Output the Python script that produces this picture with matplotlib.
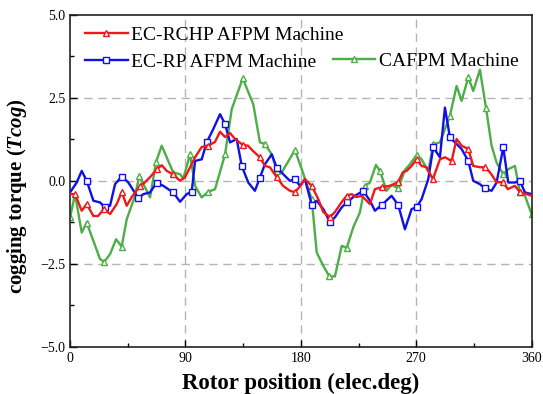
import numpy as np
import matplotlib
matplotlib.use("Agg")
import matplotlib.pyplot as plt
from matplotlib.ticker import MultipleLocator

plt.rcParams['font.family'] = ['Liberation Serif', 'DejaVu Serif']
plt.rcParams['mathtext.fontset'] = 'custom'
plt.rcParams['mathtext.it'] = 'Liberation Serif:italic:bold'
plt.rcParams['mathtext.rm'] = 'Liberation Serif:bold'

# EC-RCHP AFPM machine
rchp_pos = [0, 3.9, 9.1, 13.0, 18.2, 21.8, 26.5, 31.2, 36.4, 40.3, 44.2, 48.1,
            54.6, 58.5, 62.4, 67.6, 71.5, 75.4, 80.3, 85.8, 89.7, 93.6, 97.5,
            102.7, 107.6, 113.0, 117.0, 120.9, 124.8, 128.7, 134.9, 138.8,
            142.7, 148.1, 152.0, 155.9, 161.2, 166.1, 171.5, 175.4, 179.3,
            183.2, 188.5, 193.6, 197.5, 202.7, 206.6, 211.9, 215.8, 219.7,
            223.5, 227.4, 233.9, 237.8, 243.0, 249.5, 255.8, 259.6, 262.5,
            266.4, 270.3, 274.2, 278.1, 283.0, 288.5, 292.4, 297.6, 301.5,
            305.4, 310.6, 314.5, 319.7, 323.6, 327.5, 332.7, 337.6, 341.5,
            347.0, 350.9, 356.1, 360]
rchp_tq = [-0.40, -0.40, -0.90, -0.70, -1.06, -1.06, -0.85, -1.00, -0.70, -0.34,
           -0.75, -0.49, -0.15, -0.04, 0.11, 0.35, 0.47, 0.30, 0.20, 0.00, 0.11,
           0.41, 0.71, 1.02, 1.06, 1.17, 1.48, 1.32, 1.44, 1.26, 1.08, 1.06,
           0.90, 0.71, 0.45, 0.41, 0.11, -0.15, -0.30, -0.34, -0.17, 0.05,
           -0.15, -0.55, -0.94, -1.09, -0.94, -0.64, -0.45, -0.40, -0.49,
           -0.45, -0.70, -0.25, -0.19, -0.15, -0.04, 0.26, 0.30, 0.45, 0.65,
           0.45, 0.41, 0.05, 0.65, 0.71, 0.60, 1.26, 1.06, 0.96, 0.45, 0.41,
           0.41, 0.26, -0.04, -0.04, -0.25, -0.15, -0.34, -0.40, -0.45]
rchp_marks = [1, 3, 6, 9, 12, 15, 18, 24, 30, 33, 36, 39, 42, 45, 48, 54, 56,
              60, 63, 66, 69, 72, 75, 78]

# EC-RP AFPM machine
rp_pos = [0, 5.2, 9.1, 13.0, 18.2, 23.4, 27.3, 31.2, 35.1, 40.3, 45.5, 53.3,
          57.2, 62.4, 67.6, 72.7, 80.5, 85.8, 91.0, 94.9, 97.5, 102.7, 106.6,
          111.7, 117.0, 120.9, 124.8, 130.0, 133.9, 139.0, 144.2, 148.1, 152.0,
          157.3, 161.2, 166.3, 171.5, 175.4, 179.3, 183.2, 188.5, 192.4, 197.5,
          202.7, 206.6, 211.9, 215.8, 222.2, 228.7, 233.9, 237.8, 243.0, 250.8,
          256.0, 261.2, 266.4, 270.3, 274.2, 279.4, 283.3, 288.5, 292.4, 296.3,
          300.2, 305.4, 310.6, 314.5, 319.7, 323.6, 328.8, 332.7, 337.9, 341.8,
          347.0, 350.9, 354.8, 360]
rp_tq = [-0.35, -0.05, 0.30, 0.00, -0.60, -0.65, -0.80, -0.75, -0.10, 0.13,
         -0.05, -0.53, -0.40, -0.35, -0.05, -0.15, -0.35, -0.63, -0.40, -0.33,
         0.60, 0.65, 1.16, 1.56, 2.01, 1.71, 1.16, 1.26, 0.45, -0.05, -0.30,
         0.10, 0.50, 0.80, 0.40, 0.20, 0.00, 0.05, -0.15, 0.05, -0.72, -0.60,
         -0.85, -1.24, -1.10, -0.80, -0.65, -0.45, -0.30, -0.60, -0.90, -0.73,
         -0.45, -0.73, -1.46, -0.85, -0.80, -0.55, 0.05, 1.01, 0.71, 2.21,
         1.31, 1.16, 0.96, 0.60, 0.00, -0.10, -0.23, -0.30, -0.05, 1.01,
         -0.05, -0.05, 0.00, -0.35, -0.40]
rp_marks = [3, 6, 9, 11, 14, 16, 19, 22, 25, 28, 31, 34, 37, 40, 43, 46, 48,
            51, 53, 56, 59, 62, 65, 68, 71, 74]

# CAFPM machine
ca_pos = [0, 3.9, 9.1, 13.0, 18.2, 23.4, 26.7, 31.2, 35.9, 40.3, 44.2, 50.7,
          54.0, 58.5, 62.4, 67.1, 71.5, 76.6, 80.5, 85.8, 88.3, 93.6, 97.5,
          102.7, 107.8, 113.1, 120.9, 126.1, 134.7, 142.9, 148.1, 152.0, 157.3,
          161.2, 165.1, 175.4, 181.9, 188.5, 192.4, 197.5, 202.2, 206.6, 211.9,
          215.8, 220.9, 226.1, 230.0, 233.9, 238.6, 241.7, 246.9, 250.8, 256.0,
          261.2, 265.1, 270.3, 274.2, 279.4, 283.3, 288.5, 296.3, 301.5, 305.4,
          310.6, 314.5, 319.7, 324.4, 328.8, 332.7, 337.9, 341.8, 347.0, 350.9,
          354.8, 360]
ca_tq = [-1.10, -0.40, -1.56, -1.26, -1.81, -2.36, -2.44, -2.21, -1.76, -1.98,
         -1.16, -0.45, 0.15, -0.20, -0.50, 0.57, 1.06, 0.60, 0.25, 0.20, 0.07,
         0.80, -0.15, -0.50, -0.33, -0.25, 0.80, 2.16, 3.09, 2.31, 1.16, 1.11,
         0.80, 0.30, 0.25, 0.93, 0.22, -0.55, -2.16, -2.56, -2.88, -2.88,
         -1.96, -2.02, -1.40, -0.95, -0.15, -0.05, 0.48, 0.30, -0.30, -0.12,
         -0.23, 0.33, 0.50, 0.78, 0.65, 0.28, 1.10, 1.16, 1.96, 2.86, 2.41,
         3.12, 2.71, 3.35, 2.21, 1.06, 0.55, 0.20, 0.35, 0.45, -0.35, -0.45,
         -1.00]
ca_marks = [0, 3, 6, 9, 12, 15, 18, 21, 24, 26, 28, 31, 33, 35, 37, 40, 43, 46,
            49, 52, 55, 58, 60, 63, 66, 69, 72, 74]

RED = '#f01818'
BLUE = '#1010e8'
GREEN = '#4cae46'

fig = plt.figure(figsize=(5.43, 3.94), dpi=100)
ax = fig.add_axes([0.129, 0.12, 0.850, 0.842])

style = dict(lw=1.7, ms=4.5, mfc='white', mew=1.0)
l1, = ax.plot(rchp_pos, rchp_tq, color=RED, marker='^', mec=RED,
              markevery=rchp_marks, label='EC-RCHP AFPM Machine', zorder=4, **style)
l2, = ax.plot(rp_pos, rp_tq, color=BLUE, marker='s', mec=BLUE,
              markevery=rp_marks, label='EC-RP AFPM Machine', zorder=3, **style)
l3, = ax.plot(ca_pos, ca_tq, color=GREEN, marker='^', mec=GREEN,
              markevery=ca_marks, label='CAFPM Machine', zorder=2, **style)

ax.set_xlim(0, 360)
ax.set_ylim(-5, 5)
ax.xaxis.set_major_locator(MultipleLocator(90))
ax.xaxis.set_minor_locator(MultipleLocator(45))
ax.yaxis.set_major_locator(MultipleLocator(2.5))
ax.yaxis.set_minor_locator(MultipleLocator(1.25))
ax.set_yticks([-5, -2.5, 0, 2.5, 5])
ax.set_yticklabels(['\u22125.0', '\u22122.5', '0.0', '2.5', '5.0'])
ax.tick_params(which='both', direction='in', labelsize=10, width=1)
ax.tick_params(which='major', length=5)
ax.tick_params(which='minor', length=3)
for s in ax.spines.values():
    s.set_linewidth(1.2)
    s.set_color('#222222')

# dashed guide lines at the inner major ticks only
for v in (90, 180, 270):
    ax.axvline(v, color='#b4b4b4', lw=1.0, ls=(0, (6, 4)), zorder=1)
for v in (-2.5, 0, 2.5):
    ax.axhline(v, color='#b4b4b4', lw=1.0, ls=(0, (6, 4)), zorder=1)

ax.set_xlabel('Rotor position (elec.deg)', fontsize=16.5, fontweight='bold', labelpad=6)
ax.set_ylabel(r'cogging torque ($Tcog$)', fontsize=15, fontweight='bold')
ax.yaxis.set_label_coords(-0.09, 0.455)

leg_kw = dict(frameon=False, fontsize=14, handlelength=2.2, handletextpad=0.2,
              labelspacing=0.5, borderaxespad=0.0, borderpad=0.0)
leg1 = ax.legend(handles=[l1, l2], loc='upper left',
                 bbox_to_anchor=(0.032, 0.966), **leg_kw)
ax.add_artist(leg1)
ax.legend(handles=[l3], loc='upper left', bbox_to_anchor=(0.569, 0.888), **leg_kw)

fig.savefig('out.png', dpi=100)
